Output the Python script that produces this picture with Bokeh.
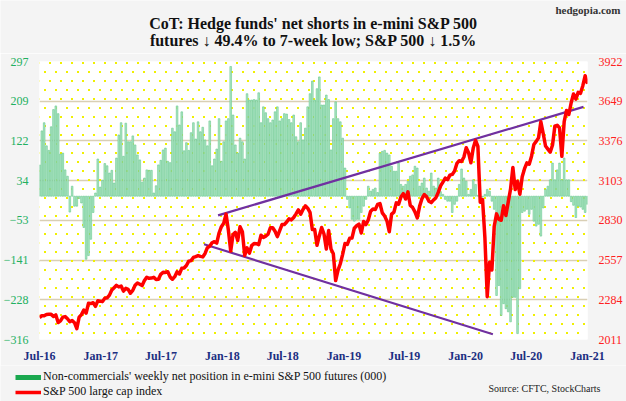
import base64
import struct
import zlib
import pandas as pd
from bokeh.plotting import figure
from bokeh.layouts import column
from bokeh.models import (Range1d, LinearAxis, FixedTicker, DatetimeTickFormatter,
                          BoxAnnotation, Label, Legend, LegendItem, ColumnDataSource,
                          ImageURLTexture)
from bokeh.embed import file_html
from bokeh.resources import INLINE

# ---------------- data ----------------
start_date = "2016-07-12"   # weekly CoT dates (Tuesdays)

# Non-commercials' weekly net position in e-mini S&P 500 futures (000)
net_position = [
    69, 144, 162, 111, 101, 153, 191, 199, 182, 93,
    95, 58, 44, -35, 22, -22, -22, -5, -15, -69,
    -139, -131, -95, -36, 7, 82, 20, 35, 72, 67,
    51, 57, 29, 84, 135, 162, 88, 161, 120, 120,
    133, 113, 91, 80, 31, 40, 58, 57, 57, 7,
    23, 69, 79, 102, 106, 77, 74, 150, 142, 199,
    157, 186, 100, 118, 101, 140, 162, 126, 164, 142,
    152, 124, 111, 166, 67, 82, 104, 171, 77, 120,
    166, 171, 286, 179, 113, 95, 128, 120, 82, 226,
    212, 212, 213, 212, 228, 162, 197, 184, 171, 162,
    168, 186, 197, 166, 171, 182, 181, 169, 162, 179,
    131, 120, 162, 124, 150, 197, 226, 254, 212, 237,
    263, 201, 201, 223, 213, 102, 171, 208, 171, 164,
    128, 62, -7, -26, -51, -55, -51, -51, -36, -22,
    -7, 22, 11, 15, 18, 8, 95, 99, 101, 95,
    91, 66, 55, 55, 73, 26, 22, 26, 33, 44,
    47, 66, 62, 22, 29, 40, 18, 11, 51, 22,
    18, 40, 10, 4, -7, -11, -11, -36, -18, -11,
    26, 60, 40, 33, 4, 15, 36, 26, 2, -4,
    -2, 4, 15, 11, -11, -29, -219, -197, -263, -237,
    -248, -255, -277, -223, -223, -303, -204, -36, -33, -29,
    -40, -29, -55, -66, -62, -88, -26, 15, 22, 36,
    73, 36, 58, 73, 36, 84, 36, 36, -12, -20,
    -47, -22, -24, -29, -36, -18,
]

# S&P 500 large cap index (weekly)
sp500 = [
    2161.74, 2175.03, 2173.60, 2182.87, 2184.05, 2183.87, 2169.04, 2179.98, 2127.81, 2139.16,
    2164.69, 2168.27, 2153.74, 2132.98, 2141.16, 2126.41, 2085.18, 2164.45, 2181.90, 2213.35,
    2191.95, 2259.53, 2258.07, 2263.79, 2238.83,
    2276.98, 2274.64, 2271.31, 2294.69, 2297.42, 2316.10, 2351.16, 2367.34, 2383.12, 2372.60,
    2378.25, 2343.98, 2362.72, 2355.54, 2328.95, 2348.69, 2384.20, 2399.29, 2390.90, 2381.73,
    2415.82, 2439.07, 2431.77, 2433.15, 2438.30, 2423.41, 2425.18, 2459.27, 2472.54, 2472.10,
    2476.83, 2441.32, 2425.55, 2443.05, 2476.55, 2461.43, 2500.23, 2502.22, 2519.36, 2549.33,
    2553.17, 2575.21, 2581.07, 2587.84, 2582.30, 2578.85, 2602.42, 2642.22, 2651.50, 2675.81,
    2683.34, 2673.61,
    2743.15, 2786.24, 2810.30, 2872.87, 2762.13, 2619.55, 2732.22, 2747.30, 2691.25, 2786.57,
    2752.01, 2588.26, 2640.87, 2604.47, 2656.30, 2670.14, 2669.91, 2663.42, 2727.72, 2712.97,
    2721.33, 2734.62, 2779.03, 2779.66, 2754.88, 2718.37, 2759.82, 2801.31, 2801.83, 2818.82,
    2840.35, 2833.28, 2850.13, 2874.69, 2901.52, 2871.68, 2904.98, 2929.67, 2913.98, 2885.57,
    2767.13, 2767.78, 2658.69, 2723.06, 2781.01, 2736.27, 2632.56, 2760.17, 2633.08, 2599.95,
    2416.62, 2485.74,
    2531.94, 2596.26, 2670.71, 2664.76, 2706.53, 2707.88, 2775.60, 2792.67, 2803.69, 2743.07,
    2822.48, 2800.71, 2834.40, 2892.74, 2907.41, 2905.03, 2939.88, 2945.64, 2881.40, 2859.53,
    2826.06, 2752.06, 2873.34, 2886.98, 2950.46, 2941.76, 2990.41, 3013.77, 2976.61, 3025.86,
    2932.05, 2918.65, 2888.68, 2847.11, 2926.46, 2978.71, 3007.39, 2992.07, 2961.79, 2952.01,
    2970.27, 2986.20, 3022.55, 3066.91, 3093.08, 3120.46, 3110.29, 3140.98, 3145.91, 3168.80,
    3221.22, 3240.02,
    3234.85, 3265.35, 3329.62, 3295.47, 3225.52, 3327.71, 3380.16, 3337.75, 2954.22, 2972.37,
    2711.02, 2304.92, 2541.47, 2488.65, 2789.82, 2874.56, 2836.74, 2830.71, 2929.80, 2863.70,
    2955.45, 3044.31, 3193.93, 3041.31, 3097.74, 3009.05, 3130.01, 3185.04, 3224.73, 3215.63,
    3271.12, 3351.28, 3372.85, 3397.16, 3508.01, 3426.96, 3340.97, 3319.47, 3298.46, 3348.44,
    3477.13, 3483.81, 3465.39, 3269.96, 3509.44, 3585.15, 3557.54, 3638.35, 3699.12, 3663.46,
    3709.41, 3703.06, 3756.07,
    3824.68, 3768.25,
]

# trend lines drawn on the S&P 500 chart
upper_trend_dates = ["2017-12-30", "2020-12-31"]
upper_trend_values = [2864, 3610]
lower_trend_dates = ["2017-11-18", "2020-04-03"]
lower_trend_values = [2666, 2047]

left_ticks = [-316, -228, -141, -53, 34, 122, 209, 297]
right_ticks = [2011, 2284, 2557, 2830, 3103, 3376, 3649, 3922]
x_tick_dates = ["2016-07-12", "2017-01-12", "2017-07-12", "2018-01-12", "2018-07-12",
                "2019-01-12", "2019-07-12", "2020-01-12", "2020-07-12", "2021-01-12"]

title_line1 = "CoT: Hedge funds' net shorts in e-mini S&P 500"
title_line2 = "futures \u2193 49.4% to 7-week low; S&P 500 \u2193 1.5%"
brand = "hedgopia.com"
source_note = "Source: CFTC, StockCharts"
legend_bars = "Non-commercials' weekly net position in e-mini S&P 500 futures (000)"
legend_line = "S&P 500 large cap index"

# ---------------- styling ----------------
SERIF = "Liberation Serif"
BG = "#f4f4f4"
BAR_COLOR = "#aee4c4"
BAR_EDGE = "#66c98f"
SWATCH_GREEN = "#1aa84f"
LINE_RED = "#ff0000"
TREND_PURPLE = "#7030a0"
W = 626


def dot_tile_url(w=11, h=18, rgba=(240, 240, 0, 255)):
    """Small PNG tile with two staggered 2x2 dots (background texture)."""
    on = {(0, 0), (1, 0), (0, 1), (1, 1), (5, 9), (6, 9), (5, 10), (6, 10)}
    raw = b"".join(
        b"\x00" + b"".join(bytes(rgba) if (x, y) in on else b"\x00\x00\x00\x00"
                           for x in range(w))
        for y in range(h))

    def chunk(tag, data):
        return (struct.pack(">I", len(data)) + tag + data +
                struct.pack(">I", zlib.crc32(tag + data) & 0xFFFFFFFF))

    png = (b"\x89PNG\r\n\x1a\n" +
           chunk(b"IHDR", struct.pack(">IIBBBBB", w, h, 8, 6, 0, 0, 0)) +
           chunk(b"IDAT", zlib.compress(raw)) + chunk(b"IEND", b""))
    return "data:image/png;base64," + base64.b64encode(png).decode()


def unalign(f):
    if "frame_align" in f.properties():
        f.frame_align = False


def panel(height):
    f = figure(width=W, height=height, x_range=Range1d(0, 1), y_range=Range1d(0, 1),
               x_axis_location=None, y_axis_location=None,
               output_backend="svg", toolbar_location=None,
               min_border=0, min_border_left=0, min_border_right=0,
               min_border_top=0, min_border_bottom=0)
    f.grid.visible = False
    f.background_fill_color = BG
    f.border_fill_color = BG
    f.outline_line_color = None
    unalign(f)
    return f


txt = dict(x_units="screen", y_units="screen", text_font=SERIF,
           text_baseline="middle")

# ---------------- header ----------------
header = panel(53)
header.add_layout(Label(x=313, y=30, text=title_line1, text_align="center",
                        text_font_size="16px", text_font_style="bold",
                        text_color="#111111", **txt))
header.add_layout(Label(x=313, y=13, text=title_line2, text_align="center",
                        text_font_size="16px", text_font_style="bold",
                        text_color="#111111", **txt))
header.add_layout(Label(x=620, y=44, text=brand, text_align="right",
                        text_font_size="11px", text_font_style="bold",
                        text_color="#333333", **txt))

# ---------------- main chart ----------------
dates = pd.date_range(start_date, periods=len(sp500), freq="7D")
src = ColumnDataSource(dict(date=dates, net=net_position, sp=sp500))

p = figure(width=W, height=312, x_axis_type="datetime",
           x_range=Range1d(dates[0], dates[-1]),
           y_range=Range1d(left_ticks[0], left_ticks[-1]),
           output_backend="svg", toolbar_location=None,
           min_border_left=36, min_border_right=39,
           min_border_top=8, min_border_bottom=24)
unalign(p)
p.extra_y_ranges = {"sp": Range1d(right_ticks[0], right_ticks[-1])}
p.background_fill_color = "white"
p.border_fill_color = BG
p.outline_line_color = None

# dotted yellow backdrop
dots = BoxAnnotation(fill_color=None, line_color=None, hatch_pattern="ydots",
                     hatch_extra={"ydots": ImageURLTexture(url=dot_tile_url(),
                                                           repetition="repeat")},
                     level="underlay")
p.add_layout(dots)

p.xgrid.visible = False
p.ygrid.ticker = FixedTicker(ticks=left_ticks)
p.ygrid.grid_line_color = "#d9cfb5"
p.ygrid.grid_line_width = 1.5

p.vbar(x="date", top="net", bottom=0, width=pd.Timedelta(days=5), source=src,
       fill_color=BAR_COLOR, line_color=BAR_EDGE, line_width=0.6)

p.line(x=pd.to_datetime(upper_trend_dates), y=upper_trend_values, y_range_name="sp",
       line_color=TREND_PURPLE, line_width=2.2)
p.line(x=pd.to_datetime(lower_trend_dates), y=lower_trend_values, y_range_name="sp",
       line_color=TREND_PURPLE, line_width=2.2)

p.line("date", "sp", source=src, y_range_name="sp",
       line_color=LINE_RED, line_width=3.5, line_join="round")

xax = p.xaxis[0]
xax.ticker = FixedTicker(ticks=[pd.Timestamp(d).value // 10**6 for d in x_tick_dates])
fmt = "%b-%y"
xax.formatter = DatetimeTickFormatter(days=fmt, months=fmt, years=fmt, hours=fmt,
                                      hourmin=fmt, minutes=fmt, minsec=fmt,
                                      seconds=fmt, milliseconds=fmt, microseconds=fmt)
xax.major_label_text_font = SERIF
xax.major_label_text_font_style = "bold"
xax.major_label_text_font_size = "12px"
xax.major_label_text_color = "#1c2f82"
xax.major_label_standoff = 9

yax = p.yaxis[0]
yax.ticker = FixedTicker(ticks=left_ticks)
yax.major_label_text_font = SERIF
yax.major_label_text_font_size = "12px"
yax.major_label_text_color = "#22b060"
yax.major_label_standoff = 11

rax = LinearAxis(y_range_name="sp", ticker=FixedTicker(ticks=right_ticks))
p.add_layout(rax, "right")
rax.major_label_text_font = SERIF
rax.major_label_text_font_size = "12px"
rax.major_label_text_color = "#ff2020"
rax.major_label_standoff = 11

for ax in (xax, yax, rax):
    ax.axis_line_color = None
    ax.major_tick_line_color = None
    ax.minor_tick_line_color = None
    ax.major_tick_out = 0
    ax.major_tick_in = 0

# ---------------- footer: legend + source ----------------
footer = panel(36)
nan = float("nan")
g_sw = footer.line(x=[0], y=[nan], line_color=SWATCH_GREEN, line_width=5)
r_sw = footer.line(x=[0], y=[nan], line_color=LINE_RED, line_width=3.5)
legend = Legend(items=[LegendItem(label=legend_bars, renderers=[g_sw]),
                       LegendItem(label=legend_line, renderers=[r_sw])],
                location=(15, 2), orientation="vertical",
                background_fill_alpha=0, border_line_color=None,
                label_text_font=SERIF, label_text_font_size="12px",
                label_text_color="#111111",
                glyph_width=26, glyph_height=14, label_height=14,
                label_standoff=2, spacing=0, padding=0, margin=0)
footer.add_layout(legend)
footer.add_layout(Label(x=600, y=13, text=source_note, text_align="right",
                        text_font_size="10px", text_color="#222222", **txt))

layout = column(header, p, footer, spacing=0)
open("out.html", "w").write(file_html(layout, INLINE))
